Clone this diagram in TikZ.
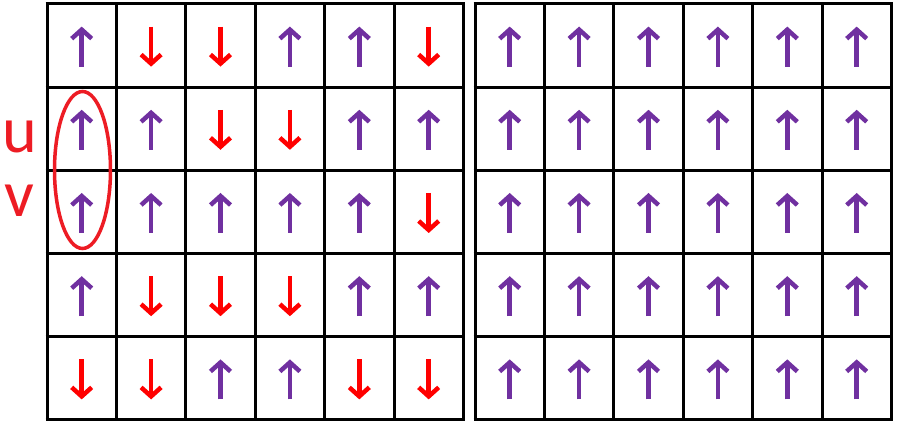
\documentclass[tikz,border=0pt]{standalone}
\usepackage{fontspec}
\setmainfont{Carlito}
\usetikzlibrary{arrows.meta,shapes.geometric}
\definecolor{pur}{HTML}{7030A0}
\definecolor{rd}{HTML}{FF0000}
\definecolor{lblred}{HTML}{ED1C24}
\begin{document}
\begin{tikzpicture}[x=1pt,y=-1pt,
  gridline/.style={line width=3pt, black},
  spin/.style={line width=4.5pt, -{Straight Barb[length=9pt,width=20pt]}},
  lbl/.style={text=lblred, font=\fontsize{66}{66}\selectfont, inner sep=0pt}]
\useasboundingbox[fill=white] (0,0) rectangle (898,427);
\def\cw{69.4}
\def\rh{83.2}
% grids
\foreach \xo in {47,475}{
  \foreach \i in {0,...,6}
    \draw[gridline] ({\xo+\i*\cw},4) -- ({\xo+\i*\cw},420);
  \foreach \j in {0,...,5}
    \draw[gridline] (\xo-1.5,{4+\j*\rh}) -- ({\xo+6*\cw+1.5},{4+\j*\rh});
}
% left grid spins (1 = up, -1 = down)
\foreach \r/\row in {0/{1,-1,-1,1,1,-1},1/{1,1,-1,-1,1,1},2/{1,1,1,1,1,-1},3/{1,-1,-1,-1,1,1},4/{-1,-1,1,1,-1,-1}}{
  \foreach \d [count=\c from 0] in \row {
    \ifnum\d>0 \def\col{pur}\else\def\col{rd}\fi
    \draw[spin,\col] ({47+(\c+0.5)*\cw},{4+(\r+0.5)*\rh+1+20*\d}) -- ({47+(\c+0.5)*\cw},{4+(\r+0.5)*\rh+1-20*\d});
  }
}
% right grid spins (all up)
\foreach \r in {0,...,4}{
  \foreach \c in {0,...,5}
    \draw[spin,pur] ({475+(\c+0.5)*\cw},{4+(\r+0.5)*\rh+21}) -- ({475+(\c+0.5)*\cw},{4+(\r+0.5)*\rh-19});
}
% ellipse and labels
\node[draw=lblred, line width=3.5pt, ellipse, minimum width=56pt, minimum height=157pt, inner sep=0pt] (pair) at (82.5,170) {};
\node[lbl] (u) at (20,137) {u};
\node[lbl] (v) at (19,201) {v};
\end{tikzpicture}
\end{document}
